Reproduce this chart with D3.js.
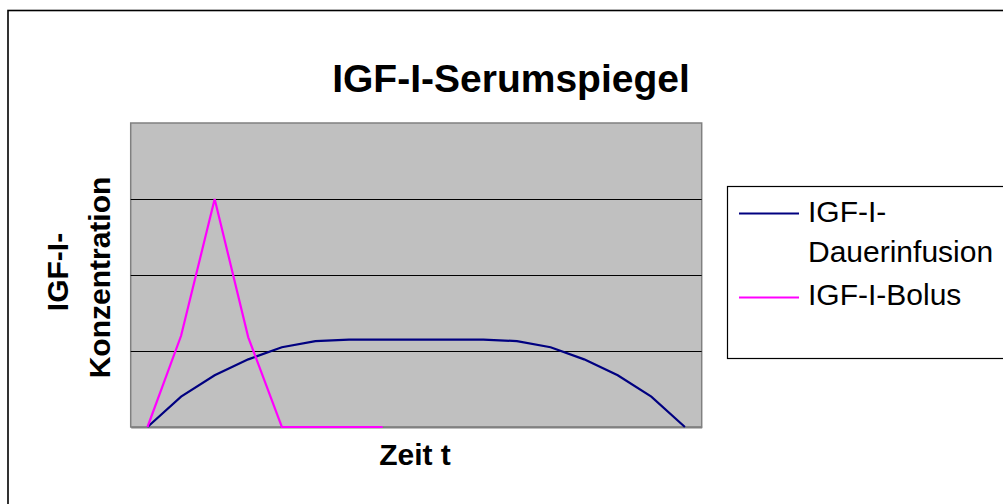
<!DOCTYPE html>
<html>
<head>
<meta charset="utf-8">
<script src="https://cdn.jsdelivr.net/npm/d3@7"></script>
<style>
  html, body { margin: 0; padding: 0; background: #fff; }
  svg { display: block; }
</style>
</head>
<body>
<div id="chart"></div>
<script>
// Daten
const timePoints = d3.range(1, 18); // 17 Zeitpunkte, keine Beschriftung
const dauerinfusion = [0, 0.40, 0.68, 0.89, 1.05, 1.13, 1.15, 1.15, 1.15, 1.15, 1.15, 1.13, 1.05, 0.89, 0.68, 0.40, 0];
const bolus = [0, 1.2, 3, 1.18, 0, 0, 0, 0];
const yTicks = [0, 1, 2, 3, 4];
const seriesNames = ["IGF-I-Dauerinfusion", "IGF-I-Bolus"];
const seriesColors = ["#000080", "#FF00FF"];

const width = 1003, height = 504;
const plot = { left: 130.7, top: 123, right: 701.7, bottom: 427 };
const font = "Liberation Sans, Arial, sans-serif";

const svg = d3.select("#chart").append("svg")
    .attr("width", width)
    .attr("height", height);

// Diagrammbereich-Rahmen
svg.append("rect")
    .attr("x", 8).attr("y", 10.5)
    .attr("width", width + 20).attr("height", height + 20)
    .attr("fill", "#fff")
    .attr("stroke", "#000")
    .attr("stroke-width", 1.6);

// Titel
svg.append("text")
    .attr("x", 511).attr("y", 92)
    .attr("text-anchor", "middle")
    .style("font-family", font)
    .style("font-size", "39px")
    .style("font-weight", "bold")
    .text("IGF-I-Serumspiegel");

// Skalen
const x = d3.scaleBand()
    .domain(timePoints)
    .range([plot.left, plot.right]);

const y = d3.scaleLinear()
    .domain([0, 4])
    .range([plot.bottom, plot.top]);

// Zeichenfläche
svg.append("rect")
    .attr("x", plot.left).attr("y", plot.top)
    .attr("width", plot.right - plot.left)
    .attr("height", plot.bottom - plot.top)
    .attr("fill", "#C0C0C0")
    .attr("stroke", "#808080")
    .attr("stroke-width", 1.5);

// Gitternetzlinien
svg.append("g")
    .attr("transform", `translate(${plot.left},0)`)
    .call(d3.axisLeft(y).tickValues(yTicks.slice(1, -1)).tickSize(-(plot.right - plot.left)).tickFormat(""))
    .call(g => g.select(".domain").remove())
    .call(g => g.selectAll(".tick line").attr("stroke", "#000").attr("stroke-width", 1));

// X-Achse
svg.append("g")
    .attr("transform", `translate(0,${plot.bottom})`)
    .call(d3.axisBottom(x).tickSize(0).tickFormat(""))
    .call(g => g.select(".domain").attr("stroke", "#808080").attr("stroke-width", 2));

const cx = d => x(d) + x.bandwidth() / 2;

const line = d3.line()
    .x((d, i) => cx(timePoints[i]))
    .y(d => y(d));

[dauerinfusion, bolus].forEach((vals, k) => {
    svg.append("path")
        .datum(vals)
        .attr("fill", "none")
        .attr("stroke", seriesColors[k])
        .attr("stroke-width", 2.2)
        .attr("stroke-linejoin", "miter")
        .attr("d", line);
});

// Achsentitel
svg.append("text")
    .attr("x", 415).attr("y", 465)
    .attr("text-anchor", "middle")
    .style("font-family", font)
    .style("font-size", "30px")
    .style("font-weight", "bold")
    .text("Zeit t");

const yTitle = [["IGF-I-", 68.3, 272], ["Konzentration", 110, 277.5]];
yTitle.forEach(([t, bx, cy]) => {
    svg.append("text")
        .attr("transform", `translate(${bx},${cy}) rotate(-90)`)
        .attr("text-anchor", "middle")
        .style("font-family", font)
        .style("font-size", "30px")
        .style("font-weight", "bold")
        .text(t);
});

// Legende
const legend = svg.append("g");
legend.append("rect")
    .attr("x", 727.5).attr("y", 186.5)
    .attr("width", 300).attr("height", 172)
    .attr("fill", "#fff")
    .attr("stroke", "#000")
    .attr("stroke-width", 1.2);

const legendItems = [
    { lines: ["IGF-I-", "Dauerinfusion"], lineY: 213.5, baseY: 221.7 },
    { lines: ["IGF-I-Bolus"], lineY: 297.5, baseY: 305 }
];
legendItems.forEach((it, k) => {
    legend.append("line")
        .attr("x1", 739).attr("x2", 799)
        .attr("y1", it.lineY).attr("y2", it.lineY)
        .attr("stroke", seriesColors[k])
        .attr("stroke-width", 2);
    const txt = legend.append("text")
        .attr("x", 808).attr("y", it.baseY)
        .style("font-family", font)
        .style("font-size", "30px");
    it.lines.forEach((l, j) => {
        txt.append("tspan")
            .attr("x", 808)
            .attr("dy", j === 0 ? 0 : 40)
            .text(l);
    });
});
</script>
</body>
</html>
